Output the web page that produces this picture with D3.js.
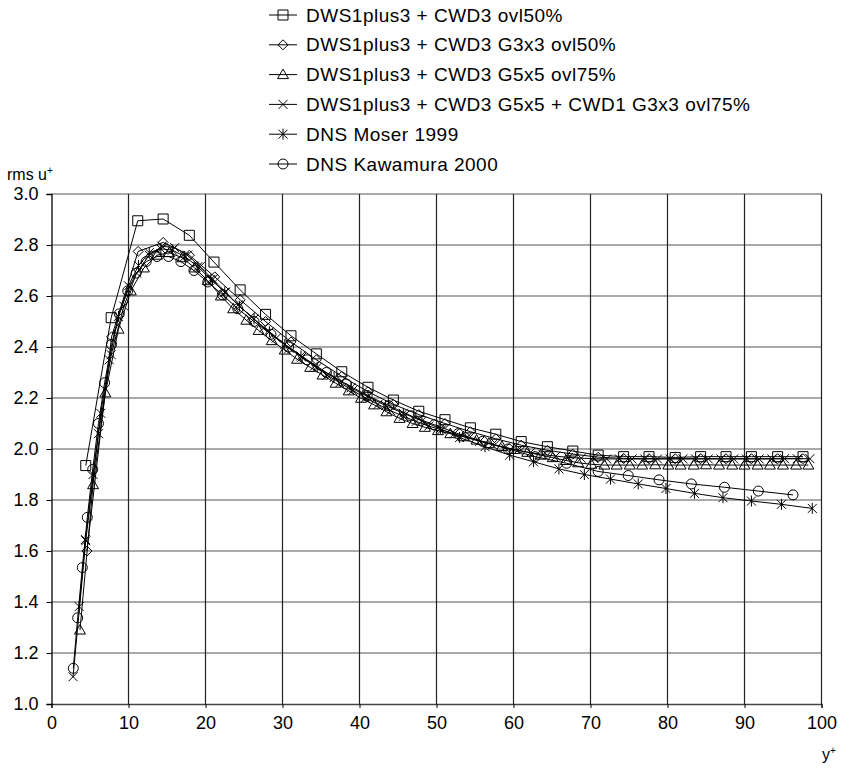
<!DOCTYPE html>
<html>
<head>
<meta charset="utf-8">
<script src="https://cdn.jsdelivr.net/npm/d3@7"></script>
<style>
  html, body { margin: 0; padding: 0; background: #fff; }
  text { font-family: "Liberation Sans", Arial, sans-serif; fill: #000; }
</style>
</head>
<body>
<svg id="chart" width="855" height="768"></svg>
<script>
// ---- data ----
const xTicks = [0, 10, 20, 30, 40, 50, 60, 70, 80, 90, 100];
const yTicks = [1.0, 1.2, 1.4, 1.6, 1.8, 2.0, 2.2, 2.4, 2.6, 2.8, 3.0];

const seriesNames = [
  "DWS1plus3 + CWD3 ovl50%",
  "DWS1plus3 + CWD3 G3x3 ovl50%",
  "DWS1plus3 + CWD3 G5x5 ovl75%",
  "DWS1plus3 + CWD3 G5x5 + CWD1 G3x3 ovl75%",
  "DNS Moser 1999",
  "DNS Kawamura 2000"
];
const seriesMarkers = ["square", "diamond", "triangle", "cross", "asterisk", "circle"];

// series 1: squares
const sqX = [4.45, 7.75, 11.2, 14.5, 17.9, 21.1, 24.5, 27.8, 31.1, 34.4, 37.7, 41.1, 44.4, 47.7, 51.1, 54.4, 57.7, 61.0, 64.4, 67.7, 71.0, 74.3, 77.6, 81.0, 84.3, 87.6, 90.9, 94.3, 97.6];
const sqY = [1.935, 2.515, 2.895, 2.902, 2.838, 2.733, 2.624, 2.528, 2.444, 2.373, 2.303, 2.242, 2.192, 2.148, 2.115, 2.083, 2.058, 2.029, 2.009, 1.992, 1.976, 1.970, 1.970, 1.967, 1.970, 1.970, 1.970, 1.970, 1.970];

// series 2: diamonds
const diX = [4.6, 7.8, 11.25, 14.5, 17.9, 21.2, 24.5, 27.8, 31.1, 34.4, 37.7, 41.1, 44.4, 47.7, 51.1, 54.4, 57.7, 61.0, 64.4, 67.7, 71.0, 74.3, 77.6, 81.0, 84.3, 87.6, 90.9, 94.3, 97.6];
const diY = [1.60, 2.44, 2.775, 2.81, 2.76, 2.675, 2.585, 2.50, 2.42, 2.35, 2.285, 2.225, 2.175, 2.135, 2.10, 2.068, 2.04, 2.015, 1.995, 1.98, 1.968, 1.963, 1.962, 1.962, 1.962, 1.962, 1.962, 1.962, 1.962];

// series 3: triangles
const trX = [3.7, 5.4, 7.0, 8.7, 10.3, 12.0, 13.7, 15.3, 17.0, 18.6, 20.3, 22.0, 23.6, 25.3, 26.9, 28.6, 30.3, 31.9, 33.6, 35.2, 36.9, 38.6, 40.2, 41.9, 43.5, 45.2, 46.9, 48.5, 50.2, 51.8, 53.5, 55.2, 56.8, 58.5, 60.1, 61.8, 63.5, 65.1, 66.8, 68.4, 70.1, 71.8, 73.4, 75.1, 76.7, 78.4, 80.1, 81.7, 83.4, 85.0, 86.7, 88.4, 90.0, 91.7, 93.3, 95.0, 96.7, 98.3];
const trY = [1.29, 1.86, 2.22, 2.47, 2.62, 2.71, 2.76, 2.77, 2.75, 2.71, 2.66, 2.60, 2.55, 2.505, 2.465, 2.425, 2.388, 2.352, 2.32, 2.29, 2.258, 2.228, 2.199, 2.173, 2.146, 2.12, 2.10, 2.085, 2.072, 2.06, 2.048, 2.035, 2.022, 2.01, 1.998, 1.987, 1.976, 1.966, 1.955, 1.946, 1.940, 1.937, 1.937, 1.937, 1.937, 1.938, 1.937, 1.937, 1.937, 1.938, 1.937, 1.937, 1.937, 1.937, 1.937, 1.937, 1.937, 1.937];

// series 4: crosses
const crX = [2.8, 4.45, 6.1, 7.75, 9.4, 11.05, 12.7, 14.35, 16.0, 17.65, 19.3, 20.95, 22.6, 24.25, 25.9, 27.55, 29.2, 30.85, 32.5, 34.15, 35.8, 37.45, 39.1, 40.75, 42.4, 44.05, 45.7, 47.35, 49.0, 50.65, 52.3, 53.95, 55.6, 57.25, 58.9, 60.55, 62.2, 63.85, 65.5, 67.15, 68.8, 70.45, 72.1, 73.75, 75.4, 77.05, 78.7, 80.35, 82.0, 83.65, 85.3, 86.95, 88.6, 90.25, 91.9, 93.55, 95.2, 96.85, 98.5];
const crY = [1.107, 1.64, 2.06, 2.37, 2.56, 2.69, 2.76, 2.795, 2.79, 2.76, 2.715, 2.665, 2.615, 2.565, 2.52, 2.475, 2.435, 2.395, 2.36, 2.325, 2.29, 2.26, 2.23, 2.20, 2.175, 2.15, 2.128, 2.108, 2.09, 2.075, 2.06, 2.045, 2.03, 2.017, 2.005, 1.995, 1.986, 1.978, 1.972, 1.967, 1.964, 1.962, 1.961, 1.961, 1.961, 1.961, 1.961, 1.961, 1.961, 1.961, 1.961, 1.961, 1.961, 1.961, 1.961, 1.961, 1.962, 1.962, 1.962];

// series 5: DNS Moser 1999 (asterisks)
const moX = [3.6, 4.4, 5.4, 6.4, 7.5, 8.7, 10.0, 11.3, 12.7, 14.2, 15.7, 17.3, 19.0, 20.7, 22.5, 24.4, 26.3, 28.3, 30.3, 32.4, 34.5, 36.7, 38.9, 41.1, 43.4, 45.7, 48.1, 50.5, 53.0, 56.3, 59.5, 62.6, 65.9, 69.2, 72.6, 76.2, 79.8, 83.5, 87.2, 90.9, 94.8, 98.8];
const moY = [1.382, 1.645, 1.90, 2.14, 2.35, 2.52, 2.64, 2.72, 2.77, 2.785, 2.78, 2.755, 2.715, 2.665, 2.615, 2.56, 2.51, 2.46, 2.41, 2.365, 2.32, 2.28, 2.24, 2.205, 2.17, 2.14, 2.11, 2.08, 2.045, 2.009, 1.976, 1.95, 1.922, 1.90, 1.882, 1.863, 1.845, 1.826, 1.809, 1.796, 1.783, 1.767];

// series 6: DNS Kawamura 2000 (circles)
const kaX = [2.83, 3.4, 4.0, 4.65, 5.35, 6.1, 6.9, 7.8, 8.8, 9.9, 11.0, 12.3, 13.7, 15.2, 16.8, 18.5, 20.3, 22.2, 24.2, 26.3, 28.5, 30.8, 33.2, 35.7, 38.3, 41.0, 43.8, 46.7, 49.7, 52.8, 56.0, 59.3, 62.8, 66.9, 71.0, 74.9, 78.9, 83.1, 87.4, 91.8, 96.3];
const kaY = [1.14, 1.338, 1.535, 1.732, 1.92, 2.10, 2.26, 2.41, 2.53, 2.62, 2.69, 2.735, 2.755, 2.755, 2.735, 2.70, 2.655, 2.605, 2.55, 2.50, 2.45, 2.40, 2.35, 2.30, 2.255, 2.21, 2.17, 2.13, 2.095, 2.06, 2.03, 2.00, 1.97, 1.944, 1.912, 1.896, 1.879, 1.863, 1.85, 1.835, 1.82];

const seriesX = [sqX, diX, trX, crX, moX, kaX];
const seriesY = [sqY, diY, trY, crY, moY, kaY];

// ---- drawing ----
const svg = d3.select("#chart");
const FONT = 18;
const x = d3.scaleLinear().domain([0, 100]).range([51.5, 821.5]);
const y = d3.scaleLinear().domain([1, 3]).range([704, 194]);

const markerPath = {
  square:   "M-5,-5H5V5H-5Z",
  diamond:  "M0,-5L5,0L0,5L-5,0Z",
  triangle: "M0,-5.5L5.5,4L-5.5,4Z",
  cross:    "M-4.5,-4.5L4.5,4.5M-4.5,4.5L4.5,-4.5",
  asterisk: "M-4.5,-4.5L4.5,4.5M-4.5,4.5L4.5,-4.5M0,-5.5V5.5",
  circle:   d3.symbol().type(d3.symbolCircle).size(Math.PI * 25)()
};

// gridlines
const grid = svg.append("g");
grid.selectAll("line.h").data(yTicks.slice(1)).enter().append("line")
  .attr("x1", x(0)).attr("x2", x(100))
  .attr("y1", d => y(d)).attr("y2", d => y(d))
  .attr("stroke", "#555").attr("stroke-width", 1.2);
grid.selectAll("line.v").data(xTicks.slice(1)).enter().append("line")
  .attr("x1", d => x(d)).attr("x2", d => x(d))
  .attr("y1", y(1)).attr("y2", y(3))
  .attr("stroke", "#222").attr("stroke-width", 1.2);

// axes
const xAxis = d3.axisBottom(x).tickValues(xTicks).tickSize(4).tickPadding(8).tickFormat(d3.format("d"));
const yAxis = d3.axisLeft(y).tickValues(yTicks).tickSize(5).tickPadding(8).tickFormat(d3.format(".1f"));
const gx = svg.append("g").attr("transform", `translate(0,${y(1)})`).call(xAxis);
const gy = svg.append("g").attr("transform", `translate(${x(0)},0)`).call(yAxis);
[gx, gy].forEach(g => {
  g.select(".domain").attr("stroke", "#000").attr("stroke-width", 1.3);
  g.selectAll(".tick line").attr("stroke", "#000");
  g.selectAll(".tick text").attr("font-size", FONT).attr("font-family", "Liberation Sans, Arial, sans-serif").attr("fill", "#000");
});
gx.select(".domain").attr("stroke", "#444");

// series
const line = d3.line().x(d => x(d[0])).y(d => y(d[1]));
seriesX.forEach((xs, i) => {
  const pts = xs.map((v, j) => [v, seriesY[i][j]]);
  const g = svg.append("g");
  g.append("path").attr("d", line(pts)).attr("fill", "none").attr("stroke", "#000").attr("stroke-width", 1);
  g.selectAll("path.m").data(pts).enter().append("path")
    .attr("d", markerPath[seriesMarkers[i]])
    .attr("transform", d => `translate(${x(d[0])},${y(d[1])})`)
    .attr("fill", "none").attr("stroke", "#000").attr("stroke-width", 1);
});

// legend
const leg = svg.append("g");
seriesNames.forEach((name, i) => {
  const cy = 15 + i * 29.8;
  leg.append("line").attr("x1", 269).attr("x2", 297).attr("y1", cy).attr("y2", cy)
    .attr("stroke", "#000").attr("stroke-width", 1);
  leg.append("path").attr("d", markerPath[seriesMarkers[i]])
    .attr("transform", `translate(283,${cy})`)
    .attr("fill", "none").attr("stroke", "#000").attr("stroke-width", 1);
  leg.append("text").attr("x", 306).attr("y", cy).attr("dy", "0.35em")
    .attr("font-size", 19).attr("letter-spacing", 0.5).text(name);
});

// axis titles
const yl = svg.append("text").attr("x", 7).attr("y", 180).attr("font-size", 16);
yl.append("tspan").text("rms u");
yl.append("tspan").attr("font-size", 10).attr("dy", -6).text("+");

const xl = svg.append("text").attr("x", 822).attr("y", 760).attr("font-size", 16);
xl.append("tspan").text("y");
xl.append("tspan").attr("font-size", 10).attr("dy", -6).text("+");
</script>
</body>
</html>
